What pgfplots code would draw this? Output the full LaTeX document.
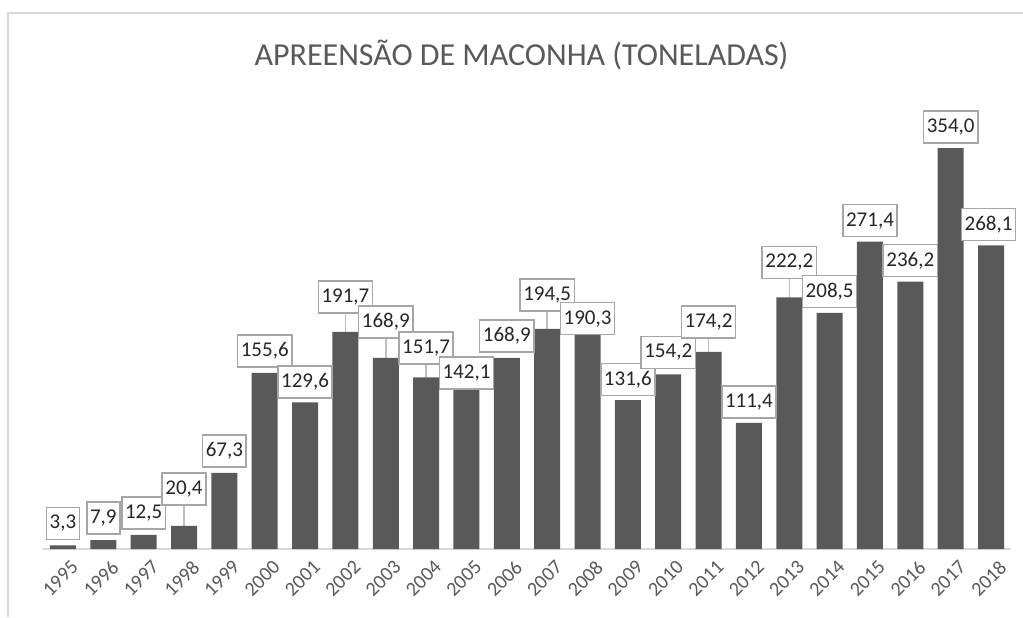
\documentclass[border=0pt]{standalone}
\usepackage{fontspec}
\setmainfont{Carlito}
\usepackage{pgfplots}
\pgfplotsset{compat=1.18}
\usepackage{pgfplotstable}
\definecolor{barcolor}{HTML}{595959}
\definecolor{titlegray}{HTML}{595959}
\definecolor{tickgray}{HTML}{595959}
\definecolor{labeltext}{HTML}{262626}
\definecolor{boxgray}{HTML}{A6A6A6}
\definecolor{leadergray}{HTML}{BFBFBF}
\definecolor{axisgray}{HTML}{D9D9D9}
\definecolor{framegray}{HTML}{D9D9D9}

\pgfplotstableread{
x y dy dx
0 3.3 22 0
1 7.9 22 0
2 12.5 22 0
3 20.4 37 0
4 67.3 22 0
5 155.6 21.7 0
6 129.6 20.5 0
7 191.7 35 0
8 168.9 36 0
9 151.7 29.5 0
10 142.1 15 0
11 168.9 22 0
12 194.5 34 0
13 190.3 15 0
14 131.6 20.5 0
15 154.2 22 0
16 174.2 30 0
17 111.4 21 0
18 222.2 35 0
19 208.5 21.5 0
20 271.4 21 0
21 236.2 21 0
22 354.0 21 0
23 268.1 21 -2.5
}\datatable

\pgfplotstableread{
x y
3 38.9
7 208.5
8 186.8
9 163.9
12 210.2
16 186.4
18 239.0
}\leadertable

\begin{document}
\begin{tikzpicture}
\useasboundingbox (0,0) rectangle (511.5pt,308.5pt);
\draw[color=framegray, line width=0.75pt] (4pt,0) -- (4pt,302pt) -- (511.5pt,302pt);
\node[font=\fontsize{16}{19}\selectfont, text=titlegray] at (260.75pt,281pt) {APREENSÃO DE MACONHA (TONELADAS)};
\begin{axis}[
  at={(21.4pt,34pt)}, anchor=south west,
  scale only axis, width=484.2pt, height=224.5pt,
  xmin=-0.5, xmax=23.5, ymin=0, ymax=396.6,
  axis y line=none,
  axis x line=bottom,
  x axis line style={draw=axisgray, line width=0.75pt, -},
  xtick={0,...,23},
  xticklabels={1995,1996,1997,1998,1999,2000,2001,2002,2003,2004,2005,2006,2007,2008,2009,2010,2011,2012,2013,2014,2015,2016,2017,2018},
  major tick length=0pt,
  x tick label style={rotate=45, anchor=north east, font=\fontsize{10}{12}\selectfont, text=tickgray, inner sep=2pt, yshift=-4pt, xshift=1pt},
  ytick=\empty,
  clip=false,
  /pgf/number format/use comma,
  /pgf/number format/fixed,
  /pgf/number format/fixed zerofill,
  /pgf/number format/precision=1,
  /pgf/number format/assume math mode=true,
]
\addplot[ycomb, draw=leadergray, line width=0.75pt] table[x=x,y=y] {\leadertable};
\addplot[ybar, bar width=13pt, fill=barcolor, draw=none,
  nodes near coords, point meta=y,
  visualization depends on={\thisrow{dy} \as \dy},
  visualization depends on={\thisrow{dx} \as \dx},
  nodes near coords style={font=\fontsize{10.5}{12}\selectfont, text=labeltext,
    draw=boxgray, fill=white, line width=0.75pt, inner xsep=1.6pt, inner ysep=0pt,
    minimum height=16pt, anchor=center, yshift=\dy*0.5pt, xshift=\dx*0.5pt}
] table[x=x,y=y] {\datatable};
\end{axis}
\end{tikzpicture}
\end{document}
